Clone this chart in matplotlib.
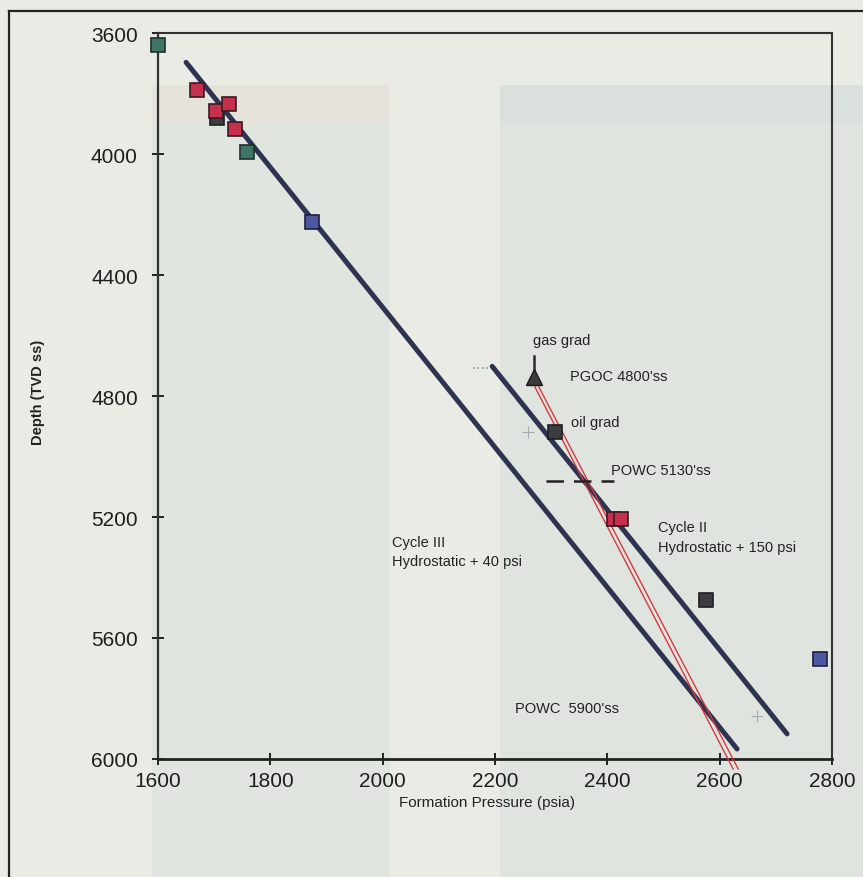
import matplotlib
matplotlib.use("Agg")
import matplotlib.pyplot as plt
from matplotlib.patches import Rectangle
from matplotlib.lines import Line2D

plt.rcParams['font.family'] = ['Liberation Sans Narrow', 'Liberation Sans', 'DejaVu Sans']

# ---- data (pressure psia, depth ft TVD ss) ----
teal_p = [1600, 1759]
teal_d = [3640, 3992]
red_p = [1669, 1704, 1727, 1737, 2412, 2425]
red_d = [3787, 3857, 3835, 3917, 5205, 5205]
dark_p = [1705, 2306, 2575]
dark_d = [3882, 4920, 5473]
blue_p = [1874, 2778]
blue_d = [4224, 5669]

cycle3_p = [1650, 2631]
cycle3_d = [3697, 5967]
cycle2_p = [2195, 2720]
cycle2_d = [4702, 5917]

grad_a_p = [2271, 2624]
grad_a_d = [4770, 6033]
grad_b_p = [2278, 2633]
grad_b_d = [4770, 6033]

gas_p, gas_d = 2270, 4738
powc_p = [2290, 2412]
powc_d = [5082, 5082]

xticks = [1600, 1800, 2000, 2200, 2400, 2600, 2800]
yticks = [3600, 4000, 4400, 4800, 5200, 5600, 6000]

W, H = 863, 878
fig = plt.figure(figsize=(W / 100, H / 100), dpi=100, facecolor='#ebebe6')

# scanned-page background tints
def frect(x0, y0, x1, y1, color, alpha=1.0):
    fig.patches.append(Rectangle((x0 / W, 1 - y1 / H), (x1 - x0) / W, (y1 - y0) / H,
                                 transform=fig.transFigure, facecolor=color,
                                 edgecolor='none', alpha=alpha, zorder=-10))

frect(152, 86, 390, 878, '#e0e5e0')
frect(500, 86, 863, 878, '#dfe4df')
frect(152, 86, 390, 125, '#ebe2dc', 0.6)
frect(500, 86, 863, 125, '#dae0db')

# outer frame
fig.add_artist(Line2D([9 / W, 9 / W], [1 - 12 / H, 0], transform=fig.transFigure,
                      color='#222222', lw=1.6))
fig.add_artist(Line2D([9 / W, 1], [1 - 12 / H, 1 - 12 / H], transform=fig.transFigure,
                      color='#222222', lw=1.6))

ax = fig.add_axes([158 / W, 1 - 760 / H, (832 - 158) / W, (760 - 34) / H])
ax.set_facecolor('none')
ax.set_xlim(1600, 2800)
ax.set_ylim(6000, 3600)

# gradient lines
ax.plot(cycle3_p, cycle3_d, color='#2f3352', lw=3.6, solid_capstyle='round', zorder=3)
ax.plot(cycle2_p, cycle2_d, color='#2f3352', lw=3.6, solid_capstyle='round', zorder=3)
ax.plot(grad_a_p, grad_a_d, color='#d23a3f', lw=1.0, zorder=4, clip_on=False)
ax.plot(grad_b_p, grad_b_d, color='#d23a3f', lw=1.0, zorder=4, clip_on=False)
ax.plot([2161, 2195], [4707, 4707], color='#8a8f9a', lw=1.2, ls=':', zorder=2)
ax.plot(powc_p, powc_d, color='#222222', lw=1.8, dashes=(7, 4), zorder=5)

# faint dotted crosses
ax.plot([2259, 2666], [4919, 5858], ls='none', marker='+', ms=9, mew=0.8,
        color='#a8acb4', zorder=2)

# data squares
sq = dict(ls='none', marker='s', ms=10.5, mew=1.2, zorder=6, clip_on=False)
ax.plot(dark_p, dark_d, mfc='#3c3c42', mec='#1e1e22', **sq)
ax.plot(teal_p, teal_d, mfc='#3f7466', mec='#1f2f2a', **sq)
ax.plot(red_p, red_d, mfc='#c5304c', mec='#3a1a22', **sq)
ax.plot(blue_p, blue_d, mfc='#4d58a0', mec='#1e2040', **sq)

# gas grad marker
ax.plot([gas_p, gas_p], [4668, 4720], color='#2a2a2a', lw=1.8, zorder=6)
ax.plot([gas_p], [gas_d], ls='none', marker='^', ms=12, mfc='#3a3d3a',
        mec='#1a1a1a', zorder=7)

# annotations
tk = dict(fontsize=10.5, color='#222222', fontweight='normal', va='center', ha='left')
ax.text(2268, 4615, 'gas grad', **tk)
ax.text(2333, 4734, "PGOC 4800'ss", **tk)
ax.text(2335, 4886, 'oil grad', **tk)
ax.text(2406, 5044, "POWC 5130'ss", **tk)
ax.text(2490, 5234, 'Cycle II', **tk)
ax.text(2490, 5300, 'Hydrostatic + 150 psi', **tk)
ax.text(2017, 5284, 'Cycle III', **tk)
ax.text(2017, 5344, 'Hydrostatic + 40 psi', **tk)
ax.text(2236, 5831, "POWC  5900'ss", **tk)

# axes styling
for s in ('top', 'right'):
    ax.spines[s].set_linestyle((0, (1, 1)))
    ax.spines[s].set_linewidth(1.5)
    ax.spines[s].set_color('#333333')
ax.spines['left'].set_linewidth(1.6)
ax.spines['left'].set_color('#333333')
ax.spines['bottom'].set_linewidth(2.0)
ax.spines['bottom'].set_color('#222222')

ax.set_xticks(xticks)
ax.set_yticks(yticks)
ax.set_xticklabels([str(v) for v in xticks])
ax.set_yticklabels([str(v) for v in yticks])
ax.tick_params(axis='both', direction='inout', length=9, width=1.4, color='#222222',
               labelsize=15, labelcolor='#1e1e1e')
ax.tick_params(axis='x', pad=4)
ax.tick_params(axis='y', pad=10)

fig.text(487 / W, 1 - 803 / H, 'Formation Pressure (psia)', ha='center', va='center',
         fontsize=11, color='#222222')
fig.text(38 / W, 1 - 392 / H, 'Depth (TVD ss)', ha='center', va='center',
         rotation=90, fontsize=10.5, color='#222222', fontweight='bold')

fig.savefig('out.png', dpi=100, facecolor=fig.get_facecolor())
